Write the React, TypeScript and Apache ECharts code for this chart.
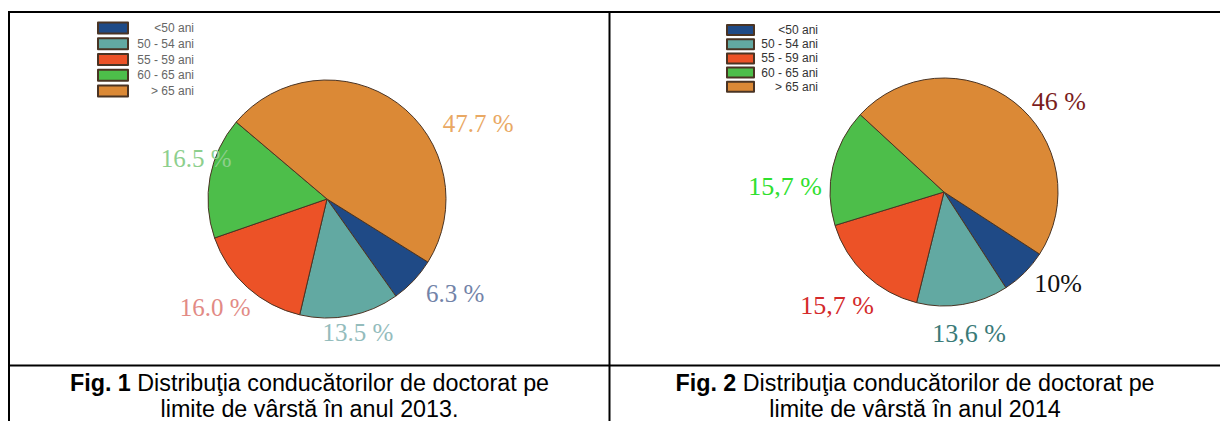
import React, { useEffect, useRef } from "react";
import * as echarts from "echarts";

// ---- data ----
const CATEGORIES = ["<50 ani", "50 - 54 ani", "55 - 59 ani", "60 - 65 ani", "> 65 ani"];
const VALUES_2013 = [6.3, 13.5, 16.0, 16.5, 47.7];
const LABELS_2013 = ["6.3 %", "13.5 %", "16.0 %", "16.5 %", "47.7 %"];
// slice sizes as drawn in the 2014 picture (labels below are the printed texts)
const VALUES_2014 = [6.7, 13.0, 16.4, 16.6, 47.3];
const LABELS_2014 = ["10%", "13,6 %", "15,7 %", "15,7 %", "46 %"];
const CAPTION_1 = ["Fig. 1", " Distribuţia conducătorilor de doctorat pe", "limite de vârstă în anul 2013."];
const CAPTION_2 = ["Fig. 2", " Distribuţia conducătorilor de doctorat pe", "limite de vârstă în anul 2014"];

// ---- styles / layout ----
const SLICE_COLORS = ["#1f4a86", "#62a9a2", "#ec5227", "#4dbe4a", "#db8936"];
const LABEL_COLORS_1 = ["#7283a8", "#94bcbc", "#e28a85", "#8dcf8d", "#e9a863"];
const LABEL_COLORS_2 = ["#111111", "#3a7a78", "#d42a2a", "#2ee02e", "#7b1d1d"];
const PIE1 = { cx: 327, cy: 199, r: 119, start: -32 };
const PIE2 = { cx: 944, cy: 192, r: 114, start: -33 };
// label anchors: [angle in degrees, distance from centre]
const LABEL_POLAR_1 = [[-36.3, 159], [-77, 137.5], [-135.8, 156], [162.8, 137], [26.6, 169]];
const LABEL_POLAR_2 = [[-38.9, 146.5], [-80, 144], [-133.4, 155.6], [178, 159], [38.1, 146]];

const SANS = "'Liberation Sans', Arial, sans-serif";
const SERIF = "'Liberation Serif', 'Times New Roman', serif";

function pieSeries(values: number[], labels: string[], labelColors: string[], pie: any, polar: number[][], fontSize: number) {
  return {
    type: "pie",
    center: [pie.cx, pie.cy],
    radius: pie.r,
    startAngle: pie.start,
    clockwise: true,
    avoidLabelOverlap: false,
    animation: false,
    silent: true,
    itemStyle: { borderColor: "#4a3424", borderWidth: 1 },
    label: {
      show: true,
      position: "outside",
      fontFamily: SERIF,
      fontSize,
      formatter: (p: any) => labels[p.dataIndex],
    },
    labelLine: { show: false },
    labelLayout: (p: any) => {
      const [a, d] = polar[p.dataIndex];
      const rad = (a * Math.PI) / 180;
      return {
        x: pie.cx + d * Math.cos(rad),
        y: pie.cy - d * Math.sin(rad),
        align: "center",
        verticalAlign: "middle",
      };
    },
    data: CATEGORIES.map((name, i) => ({
      name,
      value: values[i],
      itemStyle: { color: SLICE_COLORS[i] },
      label: { color: labelColors[i] },
    })),
  };
}

function legend(left: number, top: number, w: number, h: number, step: number, textW: number, color: string) {
  return {
    orient: "vertical",
    left,
    top,
    padding: 0,
    itemWidth: w,
    itemHeight: h,
    itemGap: step - h - 2,
    icon: "rect",
    selectedMode: false,
    data: CATEGORIES,
    formatter: (name: string) => `{t|${name}}`,
    textStyle: {
      fontSize: 12,
      lineHeight: h,
      rich: {
        t: { width: textW, align: "right", fontSize: 12, lineHeight: h, color, fontFamily: SANS },
      },
    },
  };
}

function caption(cx: number, parts: string[]) {
  return {
    type: "text",
    x: cx,
    y: 396,
    style: {
      text: `{b|${parts[0]}}{n|${parts[1]}}\n{n|${parts[2]}}`,
      align: "center",
      verticalAlign: "middle",
      fill: "#000",
      fontSize: 23.3,
      fontFamily: SANS,
      lineHeight: 26,
      rich: {
        b: { fontWeight: "bold", fontSize: 23.3, fontFamily: SANS, fill: "#000", lineHeight: 26 },
        n: { fontSize: 23.3, fontFamily: SANS, fill: "#000", lineHeight: 26 },
      },
    },
  };
}

function hline(y: number, x1: number, x2: number) {
  return { type: "line", shape: { x1, y1: y, x2, y2: y }, style: { stroke: "#000", lineWidth: 2 } };
}
function vline(x: number, y1: number, y2: number) {
  return { type: "line", shape: { x1: x, y1, x2: x, y2 }, style: { stroke: "#000", lineWidth: 2 } };
}

export default function App() {
  const ref = useRef<HTMLDivElement>(null);
  useEffect(() => {
    if (!ref.current) return;
    const chart = echarts.init(ref.current, undefined, { renderer: "svg" });
    chart.setOption({
      animation: false,
      backgroundColor: "#ffffff",
      legend: [
        legend(97, 21.5, 30, 11, 15.75, 61, "#666"),
        legend(726, 24, 27, 10, 14.2, 59, "#333"),
      ],
      series: [
        pieSeries(VALUES_2013, LABELS_2013, LABEL_COLORS_1, PIE1, LABEL_POLAR_1, 25),
        pieSeries(VALUES_2014, LABELS_2014, LABEL_COLORS_2, PIE2, LABEL_POLAR_2, 26),
      ],
      graphic: [
        hline(12, 8, 1220),
        hline(365.5, 8, 1220),
        vline(9, 11, 421),
        vline(609.5, 11, 421),
        caption(309.5, CAPTION_1),
        caption(915, CAPTION_2),
      ],
    });
    return () => chart.dispose();
  }, []);
  return (
    <div
      ref={ref}
      style={{ position: "absolute", left: 0, top: 0, width: 1220, height: 421, background: "#fff" }}
    />
  );
}
